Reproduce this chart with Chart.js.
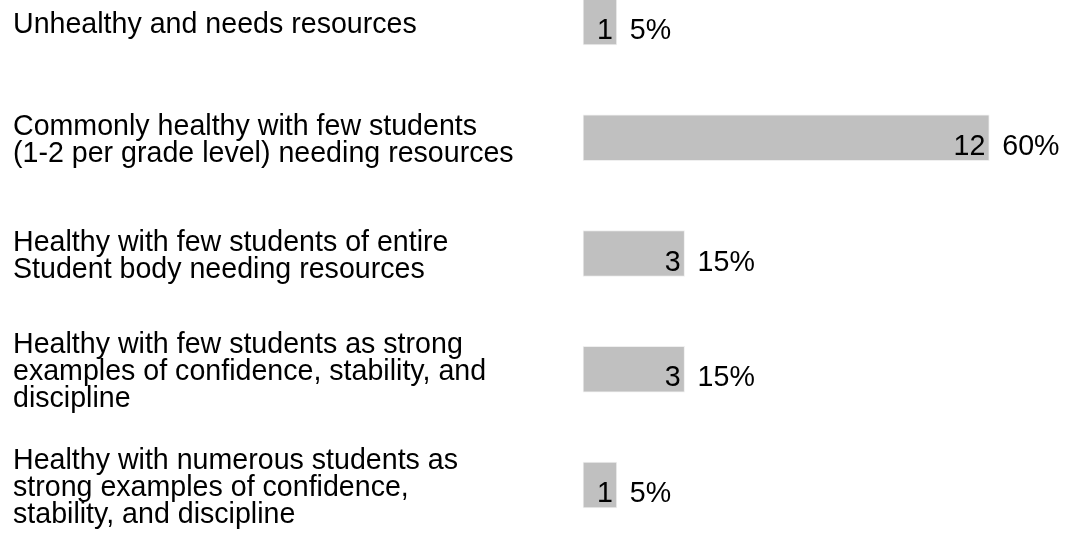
<!DOCTYPE html>
<html>
<head>
<meta charset="utf-8">
<script src="https://cdn.jsdelivr.net/npm/chart.js@4/dist/chart.umd.min.js"></script>
<style>
  html, body { margin: 0; padding: 0; background: #fff; }
  #wrap { width: 1069px; height: 535px; position: relative; }
</style>
</head>
<body>
<div id="wrap"><canvas id="grafico"></canvas></div>
<script>
// datos
const categorias = [
  ['Unhealthy and needs resources'],
  ['Commonly healthy with few students', '(1-2 per grade level) needing resources'],
  ['Healthy with few students of entire', 'Student body needing resources'],
  ['Healthy with few students as strong', 'examples of confidence, stability, and', 'discipline'],
  ['Healthy with numerous students as', 'strong examples of confidence,', 'stability, and discipline']
];
const cantidades = [1, 12, 3, 3, 1];
const porcentajes = [5, 60, 15, 15, 5];

const fuente = '"Liberation Sans", Arial, sans-serif';

// etiquetas: numero dentro de la barra, porcentaje fuera
const etiquetasBarras = {
  id: 'etiquetasBarras',
  afterDatasetsDraw(chart) {
    const ctx = chart.ctx;
    const meta = chart.getDatasetMeta(0);
    ctx.save();
    ctx.font = '28.6px ' + fuente;
    ctx.fillStyle = '#000';
    ctx.textBaseline = 'alphabetic';
    meta.data.forEach((bar, i) => {
      ctx.textAlign = 'right';
      ctx.fillText(String(cantidades[i]), bar.x - 4, bar.y + 17);
      ctx.textAlign = 'left';
      ctx.fillText(porcentajes[i] + '%', bar.x + 13, bar.y + 17);
    });
    ctx.restore();
  }
};

const ctx = document.getElementById('grafico').getContext('2d');
new Chart(ctx, {
  type: 'bar',
  data: {
    labels: categorias,
    datasets: [{
      data: cantidades,
      backgroundColor: '#c0c0c0',
      borderColor: '#efefef',
      borderWidth: 1,
      borderSkipped: false,
      barThickness: 46,
      clip: false
    }]
  },
  options: {
    indexAxis: 'y',
    responsive: true,
    maintainAspectRatio: false,
    animation: false,
    devicePixelRatio: 1,
    layout: { padding: { left: 13, right: 12, top: 22, bottom: 50 } },
    plugins: {
      legend: { display: false },
      tooltip: { enabled: false }
    },
    scales: {
      x: {
        display: false,
        min: 0,
        max: 14
      },
      y: {
        offset: false,
        grid: { display: false },
        border: { display: false },
        ticks: {
          crossAlign: 'far',
          color: '#000',
          labelOffset: 3,
          font: { family: fuente, size: 28.6, lineHeight: 0.945 }
        },
        afterFit: scale => {
          scale.width = 570;
          scale.paddingTop = 0;
          scale.paddingBottom = 0;
        }
      }
    }
  },
  plugins: [etiquetasBarras]
});
</script>
</body>
</html>
